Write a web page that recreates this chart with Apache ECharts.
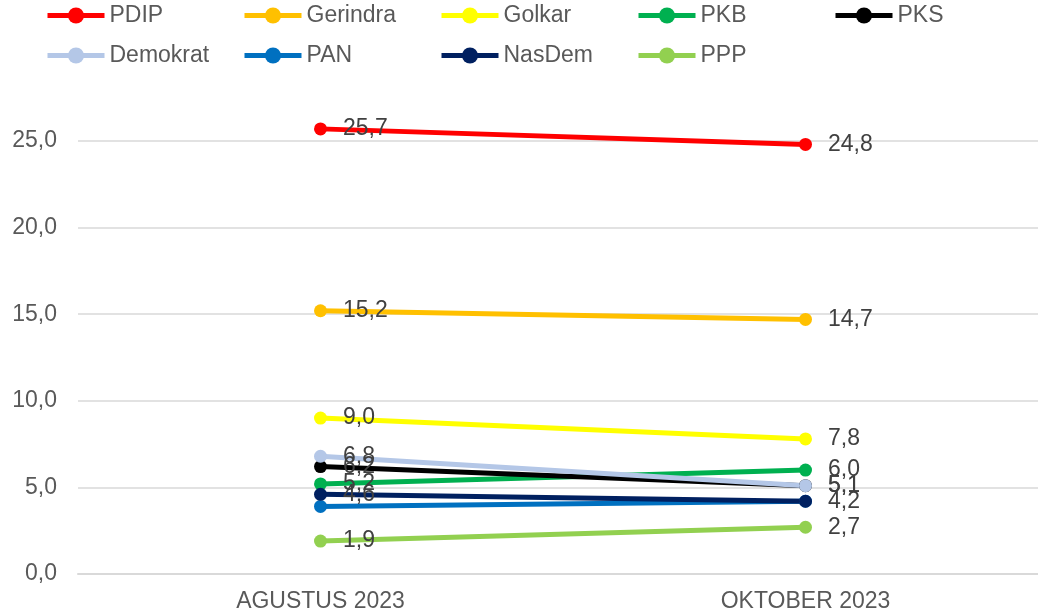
<!DOCTYPE html>
<html>
<head>
<meta charset="utf-8">
<script src="https://cdn.jsdelivr.net/npm/echarts@6/dist/echarts.min.js"></script>
<style>
  html, body { margin: 0; padding: 0; background: #fff; }
  #chart { width: 1038px; height: 616px; }
</style>
</head>
<body>
<div id="chart"></div>
<script>
const periods = ['AGUSTUS 2023', 'OKTOBER 2023']
const parties = ['PDIP', 'Gerindra', 'Golkar', 'PKB', 'PKS', 'Demokrat', 'PAN', 'NasDem', 'PPP']
const colors = ['#ff0000', '#ffc000', '#ffff00', '#00b050', '#000000', '#b4c7e7', '#0070c0', '#002060', '#92d050']
// PAN has no data labels in the original
const showLabels = [true, true, true, true, true, true, false, true, true]

const pdip = [25.7, 24.8]
const gerindra = [15.2, 14.7]
const golkar = [9.0, 7.8]
const pkb = [5.2, 6.0]
const pks = [6.2, 5.1]
const demokrat = [6.8, 5.1]
const pan = [3.9, 4.2]
const nasdem = [4.6, 4.2]
const ppp = [1.9, 2.7]
const values = [pdip, gerindra, golkar, pkb, pks, demokrat, pan, nasdem, ppp]

const fmt = v => Number(v).toFixed(1).replace('.', ',')
const font = 'Liberation Sans, Arial, sans-serif'

// one legend per party, laid out on a 5-column grid like the original
const legends = parties.map((name, i) => ({
  data: [name],
  left: 45 + (i % 5) * 197,
  top: 4 + Math.floor(i / 5) * 40,
  padding: 0,
  itemWidth: 57,
  itemHeight: 20,
  itemStyle: { borderWidth: 0 },
  lineStyle: { width: 5 },
  textStyle: { color: '#595959', fontSize: 23, fontFamily: font }
}))

const chart = echarts.init(document.getElementById('chart'))

chart.setOption({
  animation: false,
  legend: legends,
  grid: { left: 78, width: 970, top: 141, bottom: 42, outerBoundsMode: 'none' },
  xAxis: {
    type: 'category',
    data: periods,
    boundaryGap: true,
    axisLine: { lineStyle: { color: '#d9d9d9', width: 2 } },
    axisTick: { show: false },
    axisLabel: { color: '#595959', fontSize: 23, fontFamily: font, margin: 16 }
  },
  yAxis: {
    type: 'value',
    min: 0,
    max: 25,
    interval: 5,
    axisLine: { show: false },
    axisTick: { show: false },
    splitLine: { lineStyle: { color: '#d9d9d9', width: 1.5 } },
    axisLabel: { color: '#595959', fontSize: 23, fontFamily: font, margin: 21, formatter: fmt }
  },
  series: parties.map((name, i) => ({
    name,
    type: 'line',
    data: values[i],
    clip: false,
    symbol: 'circle',
    symbolSize: 13,
    color: colors[i],
    lineStyle: { width: 5, color: colors[i] },
    itemStyle: { color: colors[i] },
    label: {
      show: showLabels[i],
      position: 'right',
      distance: 16,
      color: '#404040',
      fontSize: 23,
      fontFamily: font,
      formatter: p => fmt(p.value)
    }
  }))
})
</script>
</body>
</html>
